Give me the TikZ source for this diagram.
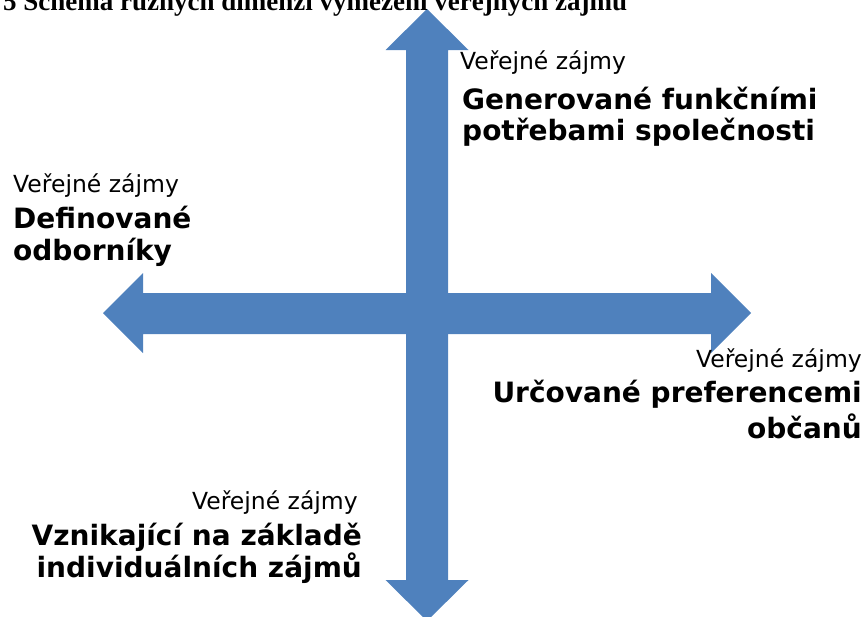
\documentclass[tikz,border=0pt]{standalone}
\usepackage{fontspec}
\setmainfont{DejaVu Sans}
\newfontfamily\titlefont{Liberation Serif}
\definecolor{arrowblue}{HTML}{4F81BD}
\begin{document}
\begin{tikzpicture}[x=1pt,y=-1pt,
  small/.style={inner sep=0pt,font=\fontsize{23.5}{27}\selectfont},
  big/.style={inner sep=0pt,font=\fontsize{28}{32}\selectfont\bfseries},
  crossarrow/.style={fill=arrowblue,draw=none}]
\useasboundingbox (0,0) rectangle (864,616);
% vertical double arrow
\fill[crossarrow] (427,9) -- (468.5,50) -- (448,50) -- (448,580) -- (468.5,580) -- (427,621)
  -- (385.5,580) -- (406,580) -- (406,50) -- (385.5,50) -- cycle;
% horizontal double arrow
\fill[crossarrow] (103,313) -- (143,273) -- (143,293) -- (711,293) -- (711,273) -- (751,313)
  -- (711,353) -- (711,334) -- (143,334) -- (143,353) -- cycle;
% title (cut off at top)
\node[inner sep=0pt,anchor=base west,font=\titlefont\fontsize{27}{30}\selectfont\bfseries] (title) at (3,10)
  {5 Schéma různých dimenzí vymezení veřejných zájmů};
% top right
\node[small,anchor=base west] (tr1) at (460,69) {Veřejné zájmy};
\node[big,anchor=base west] (tr2) at (462,109) {Generované funkčními};
\node[big,anchor=base west] (tr3) at (462,140) {potřebami společnosti};
% left
\node[small,anchor=base west] (l1) at (13,192) {Veřejné zájmy};
\node[big,anchor=base west] (l2) at (13,228) {Definované};
\node[big,anchor=base west] (l3) at (13,260) {odborníky};
% right
\node[small,anchor=base east] (r1) at (862,367) {Veřejné zájmy};
\node[big,anchor=base east] (r2) at (862,402) {Určované preferencemi};
\node[big,anchor=base east] (r3) at (862,438) {občanů};
% bottom
\node[small,anchor=base east] (b1) at (358,509) {Veřejné zájmy};
\node[big,anchor=base east] (b2) at (362,545) {Vznikající na základě};
\node[big,anchor=base east] (b3) at (362,577) {individuálních zájmů};
\end{tikzpicture}
\end{document}
